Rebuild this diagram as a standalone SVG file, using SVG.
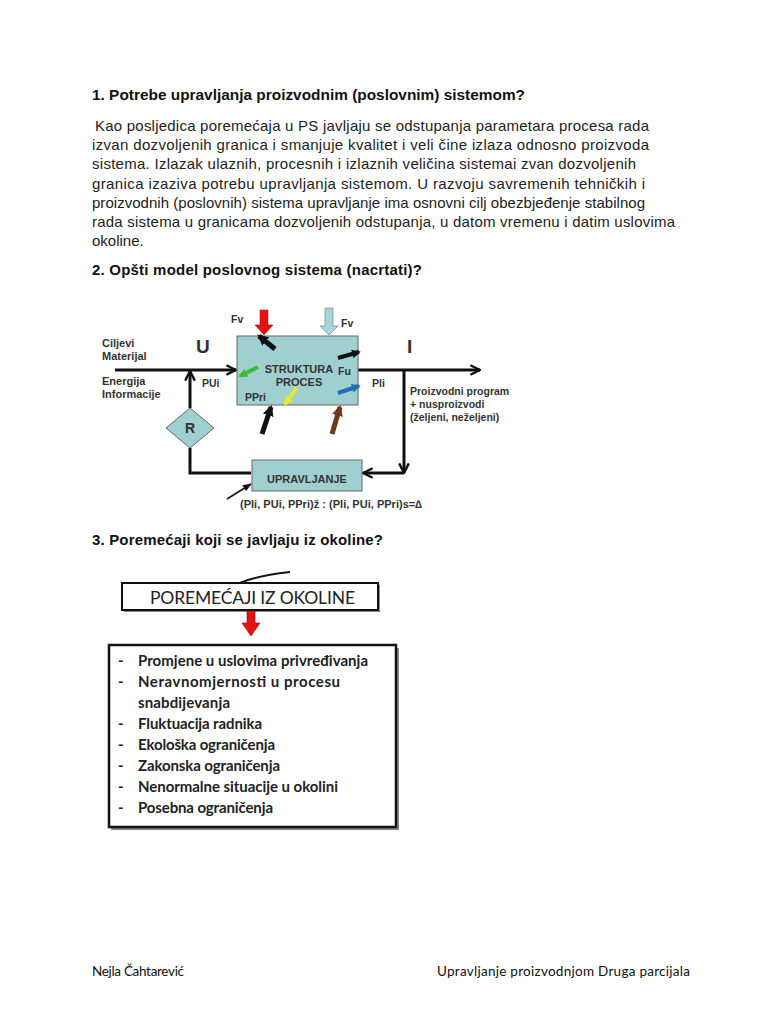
<svg xmlns="http://www.w3.org/2000/svg" width="768" height="1024" viewBox="0 0 768 1024">
<defs>
<style>
.h{font-family:"Liberation Sans",Arial,sans-serif;font-weight:bold;font-size:15px;fill:#111}
.p{font-family:"Liberation Sans",Arial,sans-serif;font-size:15px;fill:#222}
.d{font-family:"Liberation Sans",Arial,sans-serif;font-weight:bold;font-size:10.5px;fill:#333}
.c{font-family:Lato,"Open Sans",sans-serif;font-weight:bold;font-size:15px;fill:#222}
.f{font-family:Lato,"Open Sans",sans-serif;font-size:13.5px;fill:#111}
.ln{stroke:#111;stroke-width:3;fill:none}
.box{fill:#9fcfcf;stroke:#666;stroke-width:1}
</style>
<marker id="v" viewBox="0 0 10 10" refX="9" refY="5" markerWidth="4" markerHeight="4" orient="auto" markerUnits="strokeWidth">
<path d="M1,1 L9,5 L1,9" fill="none" stroke="#111" stroke-width="2"/>
</marker>
<marker id="sv" viewBox="0 0 10 10" refX="9" refY="5" markerWidth="6" markerHeight="6" orient="auto" markerUnits="strokeWidth">
<path d="M0,1 L10,5 L0,9 z" fill="#111"/>
</marker>
<marker id="tk" viewBox="0 0 10 10" refX="8" refY="5" markerWidth="2.2" markerHeight="2.2" orient="auto" markerUnits="strokeWidth">
<path d="M0,0 L10,5 L0,10 z" fill="context-stroke"/>
</marker>
</defs>

<text class="h" x="92" y="100" textLength="433" lengthAdjust="spacingAndGlyphs">1. Potrebe upravljanja proizvodnim (poslovnim) sistemom?</text>
<g id="para">
<text class="p" x="95" y="131" textLength="554">Kao posljedica poremećaja u PS javljaju se odstupanja parametara procesa rada</text>
<text class="p" x="92" y="150" textLength="557">izvan dozvoljenih granica i smanjuje kvalitet i veli čine izlaza odnosno proizvoda</text>
<text class="p" x="92" y="169" textLength="544">sistema.  Izlazak ulaznih, procesnih i izlaznih veličina sistemai zvan dozvoljenih</text>
<text class="p" x="92" y="189" textLength="553">granica izaziva potrebu upravljanja sistemom. U razvoju savremenih tehničkih i</text>
<text class="p" x="92" y="208" textLength="553">proizvodnih (poslovnih) sistema upravljanje ima osnovni cilj obezbjeđenje stabilnog</text>
<text class="p" x="92" y="227" textLength="583">rada sistema u granicama dozvoljenih odstupanja, u datom vremenu i datim uslovima</text>
<text class="p" x="92" y="246">okoline.</text>
</g>
<text class="h" x="92" y="275" textLength="330">2. Opšti model poslovnog sistema (nacrtati)?</text>

<g id="connectors">
<line class="ln" x1="115" y1="370" x2="236" y2="370" marker-end="url(#v)"/>
<line class="ln" x1="190" y1="408" x2="190" y2="371" marker-end="url(#v)"/>
<polyline class="ln" points="190,448 190,473 251,473"/>
<line class="ln" x1="358" y1="370" x2="480" y2="370" marker-end="url(#v)"/>
<line class="ln" x1="404" y1="370" x2="404" y2="473" marker-end="url(#v)"/>
<line class="ln" x1="404" y1="473" x2="363" y2="473" marker-end="url(#v)"/>
<line x1="227" y1="499" x2="251" y2="484" stroke="#111" stroke-width="1.5" marker-end="url(#sv)"/>
</g>

<g id="struktura">
<rect class="box" x="237" y="336" width="121" height="69"/>
<text class="d" x="299" y="373" text-anchor="middle" style="font-size:11px">STRUKTURA</text>
<text class="d" x="299" y="386" text-anchor="middle" style="font-size:11px">PROCES</text>
<text class="d" x="338" y="375">Fu</text>
<text class="d" x="245" y="401">PPri</text>
<line x1="275" y1="349" x2="259" y2="336" stroke="#111" stroke-width="5" marker-end="url(#tk)"/>
<line x1="258" y1="367" x2="240" y2="376" stroke="#3cba3c" stroke-width="4" marker-end="url(#tk)"/>
<line x1="297" y1="388" x2="285" y2="404" stroke="#e8e830" stroke-width="4" marker-end="url(#tk)"/>
<line x1="338" y1="358" x2="359" y2="352" stroke="#111" stroke-width="4" marker-end="url(#tk)"/>
<line x1="338" y1="393" x2="359" y2="386" stroke="#1f6fb4" stroke-width="4" marker-end="url(#tk)"/>
</g>
<g id="disturb">
<text class="d" x="231" y="323">Fv</text>
<path d="M260,310 H268 V325 H273 L264,335 L255,325 H260 Z" fill="#e41414" stroke="#a00" stroke-width="0.5"/>
<path d="M325,308 H333 V326 H338 L329,335 L320,326 H325 Z" fill="#a6d6d6" stroke="#7a9a9a" stroke-width="0.8"/>
<text class="d" x="341" y="327">Fv</text>
<line x1="262" y1="434" x2="271" y2="407" stroke="#111" stroke-width="5" marker-end="url(#tk)"/>
<line x1="332" y1="434" x2="340" y2="407" stroke="#6b3a1a" stroke-width="5" marker-end="url(#tk)"/>
</g>
<g id="labels">
<text class="d" x="196" y="353" style="font-size:19px">U</text>
<text class="d" x="407" y="353" style="font-size:19px">I</text>
<text class="d" x="102" y="347" style="font-size:11px">Ciljevi</text>
<text class="d" x="102" y="360" style="font-size:11px">Materijal</text>
<text class="d" x="102" y="385" style="font-size:11px">Energija</text>
<text class="d" x="102" y="398" style="font-size:11px">Informacije</text>
<text class="d" x="202" y="387">PUi</text>
<text class="d" x="372" y="387">Pli</text>
<text class="d" x="410" y="395">Proizvodni program</text>
<text class="d" x="410" y="408">+ nusproizvodi</text>
<text class="d" x="410" y="421">(željeni,  neželjeni)</text>
<text class="d" x="240" y="508" textLength="182" style="font-size:11px">(Pli, PUi, PPri)ž : (Pli, PUi, PPri)s=∆</text>
</g>
<g id="r">
<polygon class="box" points="190,408 214,428 190,448 166,428"/>
<text class="d" x="190" y="433" text-anchor="middle" style="font-size:14px">R</text>
</g>
<g id="upravljanje">
<rect class="box" x="252" y="460" width="110" height="31"/>
<text class="d" x="307" y="483" text-anchor="middle" style="font-size:11px">UPRAVLJANJE</text>
</g>

<text class="h" x="92" y="545" textLength="291">3. Poremećaji koji se javljaju iz okoline?</text>

<g id="poremecaji">
<rect x="124" y="585" width="256" height="27" fill="#888"/>
<rect x="122" y="583" width="256" height="27" fill="#fff" stroke="#111" stroke-width="2"/>
<text class="c" x="150" y="604" textLength="205" style="font-size:17.5px;font-weight:normal">POREMEĆAJI IZ OKOLINE</text>
<path d="M240,583 Q255,576 290,572" fill="none" stroke="#111" stroke-width="2"/>
</g>
<path d="M247,611 H255 V623 H260 L251,636 L242,623 H247 Z" fill="#e41414" stroke="#900" stroke-width="0.6"/>
<g id="lista">
<rect x="111" y="648" width="288" height="182" fill="#888"/>
<rect x="109" y="645" width="287" height="182" fill="#fff" stroke="#111" stroke-width="2.5"/>
<g class="c">
<text x="118" y="666">-</text><text x="138" y="666" textLength="230">Promjene u uslovima privređivanja</text>
<text x="118" y="687">-</text><text x="138" y="687" textLength="202">Neravnomjernosti u procesu</text>
<text x="138" y="708" textLength="92">snabdijevanja</text>
<text x="118" y="729">-</text><text x="138" y="729" textLength="124">Fluktuacija radnika</text>
<text x="118" y="750">-</text><text x="138" y="750" textLength="137">Ekološka ograničenja</text>
<text x="118" y="771">-</text><text x="138" y="771" textLength="142">Zakonska ograničenja</text>
<text x="118" y="792">-</text><text x="138" y="792" textLength="200">Nenormalne situacije u okolini</text>
<text x="118" y="813">-</text><text x="138" y="813" textLength="135">Posebna ograničenja</text>
</g>
</g>

<text class="f" x="92" y="976" textLength="92">Nejla Čahtarević</text>
<text class="f" x="437" y="976" textLength="253">Upravljanje proizvodnjom Druga parcijala</text>
</svg>
